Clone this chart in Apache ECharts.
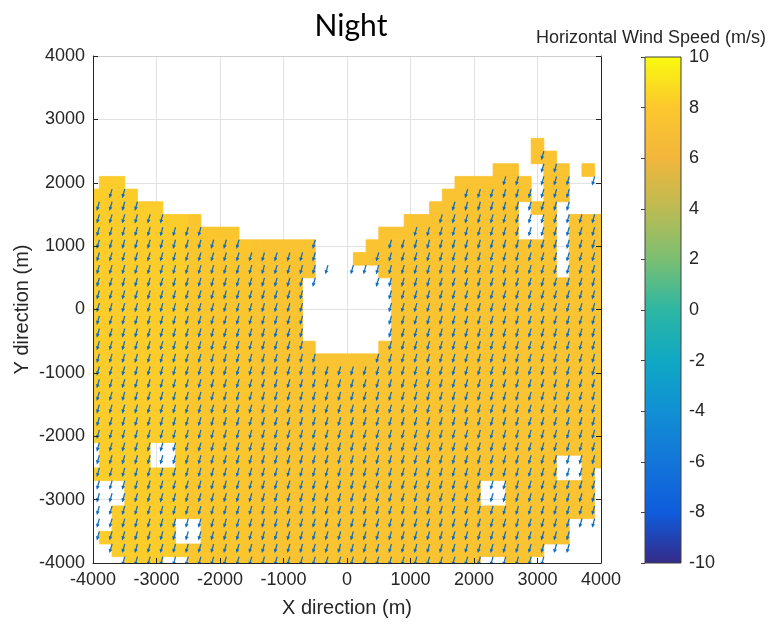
<!DOCTYPE html>
<html>
<head>
<meta charset="utf-8">
<script src="https://cdn.jsdelivr.net/npm/echarts@6/dist/echarts.min.js"></script>
<style>html,body{margin:0;padding:0;background:#fff}#c{width:774px;height:627px}</style>
</head>
<body>
<div id="c"></div>
<script>
// ---------- data ----------
const xRange = [-4000, 4000];
const yRange = [-4000, 4000];
const tickStep = 1000;
const cellSize = 200;            // metres per grid cell
const cbRange = [-10, 10];       // colour bar (m/s)
const cbTickStep = 2;

// speed grid: row j -> y = 4000 - 200 j ; column i -> x = -4000 + 200 i ; '.' = no data
const speedByCode = { '5': 7.5, '7': 7.8, '8': 8.2 };
const speedRows = [
  ".......... .......... .......... .......... .",
  ".......... .......... .......... .......... .",
  ".......... .......... .......... .......... .",
  ".......... .......... .......... .......... .",
  ".......... .......... .......... .......... .",
  ".......... .......... .......... .......... .",
  ".......... .......... .......... .......... .",
  ".......... .......... .......... .....5.... .",
  ".......... .......... .......... .....55... .",
  ".......... .......... .......... ..55..55.5 .",
  ".88....... .......... .........5 55555.55.. .",
  "8888...... .......... ........55 55555.55.. .",
  "888888.... .......... .......555 5555.55... .",
  "888888887. .......... .....55555 5555..5.55 5",
  "8888888877 77........ ...5555555 5555..5.55 5",
  "8888888877 77755555.. ..55555555 5555555.55 5",
  "8888888877 77755555.. .555555555 5555555.55 5",
  "8888888877 77755555.. ...5555555 5555555.55 5",
  "8888888877 7775555... ....555555 5555555555 5",
  "8888888877 7775555... ....555555 5555555555 5",
  "8888888877 7775555... ....555555 5555555555 5",
  "8888888877 7775555... ....555555 5555555555 5",
  "8888888877 7775555... ....555555 5555555555 5",
  "8888888877 77755555.. ...5555555 5555555555 5",
  "8888888877 7775555555 5555555555 5555555555 5",
  "8888888877 7775555555 5555555555 5555555555 5",
  "8888888877 7775555555 5555555555 5555555555 5",
  "8888888877 7775555555 5555555555 5555555555 5",
  "8888888877 7775555555 5555555555 5555555555 5",
  "8888888877 7775555555 5555555555 5555555555 5",
  "8888888877 7775555555 5555555555 5555555555 5",
  ".8888..877 7775555555 5555555555 5555555555 5",
  ".8888..877 7775555555 5555555555 5555555..5 5",
  "8888888877 7775555555 5555555555 5555555..5 .",
  "...8888877 7775555555 5555555555 5..5555555 .",
  "...8888877 7775555555 5555555555 5..5555555 .",
  "..88888877 7775555555 5555555555 5555555555 .",
  "..88888..7 7775555555 5555555555 55555555.. .",
  ".888888..7 7775555555 5555555555 55555555.. .",
  "..88888877 7775555555 5555555555 555555.... .",
  "...888..77 7775555555 5555555555 5..55..... ."
];

// wind vectors: '+' = a vector anchored at the lower-right corner of that grid cell
const windU = -2.0;   // m/s (east)
const windV = -7.2;   // m/s (north)
const arrowScale = 20; // metres of arrow per m/s
const windRows = [
  ".......... .......... .......... .......... .",
  ".......... .......... .......... .......... .",
  ".......... .......... .......... .......... .",
  ".......... .......... .......... .......... .",
  ".......... .......... .......... .......... .",
  ".......... .......... .......... .......... .",
  ".......... .......... .......... .......... .",
  ".......... .......... .......... .....+.... .",
  ".......... .......... .......... .....++... .",
  ".......... .......... .......... ..++.+++.+ .",
  ".++....... .......... .........+ ++++++++.. .",
  "++++...... .......... ........++ ++++++++.. .",
  "++++++.... .......... .......+++ ++++++++++ .",
  "+++++++++. .......... .....+++++ ++++++++++ +",
  "++++++++++ ++.....+.. ...+++++++ ++++++++++ +",
  "++++++++++ ++++++++.. ..++++++++ ++++++++++ +",
  "++++++++++ +++++++++. ++++++++++ ++++++++++ +",
  "++++++++++ ++++++++.. ..++++++++ ++++++++++ +",
  "++++++++++ +++++++... ...+++++++ ++++++++++ +",
  "++++++++++ +++++++... ...+++++++ ++++++++++ +",
  "++++++++++ +++++++... ...+++++++ ++++++++++ +",
  "++++++++++ +++++++... ...+++++++ ++++++++++ +",
  "++++++++++ +++++++... ...+++++++ ++++++++++ +",
  "++++++++++ ++++++++.. ..++++++++ ++++++++++ +",
  "++++++++++ ++++++++++ ++++++++++ ++++++++++ +",
  "++++++++++ ++++++++++ ++++++++++ ++++++++++ +",
  "++++++++++ ++++++++++ ++++++++++ ++++++++++ +",
  "++++++++++ ++++++++++ ++++++++++ ++++++++++ +",
  "++++++++++ ++++++++++ ++++++++++ ++++++++++ +",
  "++++++++++ ++++++++++ ++++++++++ ++++++++++ +",
  "++++++++++ ++++++++++ ++++++++++ ++++++++++ +",
  "++++++++++ ++++++++++ ++++++++++ ++++++++++ +",
  "++++++++++ ++++++++++ ++++++++++ ++++++++++ +",
  "++++++++++ ++++++++++ ++++++++++ ++++++++++ .",
  "++++++++++ ++++++++++ ++++++++++ ++++++++++ .",
  "++++++++++ ++++++++++ ++++++++++ ++++++++++ .",
  "++++++++++ ++++++++++ ++++++++++ ++++++++++ .",
  "++++++++++ ++++++++++ ++++++++++ ++++++++.. .",
  ".+++++++++ ++++++++++ ++++++++++ ++++++++.. .",
  "..++++++++ ++++++++++ ++++++++++ ++++++.... .",
  ".......... .......... .......... .......... ."
];

// colour map (bottom -> top of colour bar)
const parula = ['#352A87','#0F5CDD','#1375D9','#1190D4','#0FA8C4','#2DB6A3',
                '#7BBF72','#BCBB53','#F2B63C','#FCC72D','#F9FB0E'];

// ---------- build series data ----------
const cellData = [];
speedRows.forEach((row, j) => {
  const r = row.replace(/ /g, '');
  for (let i = 0; i < r.length; i++) {
    if (r[i] !== '.') cellData.push([xRange[0] + i * cellSize, yRange[1] - j * cellSize, speedByCode[r[i]]]);
  }
});
const arrowData = [];
windRows.forEach((row, j) => {
  const r = row.replace(/ /g, '');
  for (let i = 0; i < r.length; i++) {
    if (r[i] === '+') arrowData.push([xRange[0] + i * cellSize + cellSize / 2,
                                      yRange[1] - j * cellSize - cellSize / 2, windU, windV]);
  }
});

// ---------- chart ----------
const FONT = "'Liberation Sans', Arial, sans-serif";
const INK = '#262626';
const plain = v => String(v);
const chart = echarts.init(document.getElementById('c'), null, { renderer: 'canvas' });

const valueAxisBase = { type: 'value', min: xRange[0], max: xRange[1], interval: tickStep };

const option = {
  backgroundColor: '#ffffff',
  animation: false,
  title: [
    { text: 'Night', left: 346, top: 6, textAlign: 'center',
      textStyle: { fontFamily: 'Lato, "Open Sans", sans-serif', fontSize: 30, fontWeight: 'normal', color: '#000' } },
    { text: 'Horizontal Wind Speed (m/s)', left: 646, top: 24, textAlign: 'center',
      textStyle: { fontFamily: FONT, fontSize: 18, fontWeight: 'normal', color: INK } }
  ],
  grid: [
    { left: 93, top: 56, width: 508, height: 507, containLabel: false, outerBoundsMode: 'none' },
    { left: 645, top: 57, width: 36, height: 506, containLabel: false, outerBoundsMode: 'none' }
  ],
  visualMap: {
    type: 'continuous', show: false, min: cbRange[0], max: cbRange[1],
    dimension: 2, seriesIndex: 0, inRange: { color: parula }
  },
  xAxis: [
    Object.assign({}, valueAxisBase, { gridIndex: 0, position: 'bottom',
      axisLine: { show: false }, axisTick: { show: false }, axisLabel: { show: false },
      splitLine: { show: true, lineStyle: { color: '#E2E2E2', width: 1 } } }),
    Object.assign({}, valueAxisBase, { gridIndex: 0, position: 'bottom', z: 10,
      name: 'X direction (m)', nameLocation: 'middle', nameGap: 35, nameMoveOverlap: false,
      nameTextStyle: { fontFamily: FONT, fontSize: 20, color: INK },
      axisLine: { show: true, onZero: false, lineStyle: { color: INK, width: 1 } },
      axisTick: { show: true, inside: true, length: 5, lineStyle: { color: INK } },
      axisLabel: { show: true, fontFamily: FONT, fontSize: 18, color: INK, margin: 8, formatter: plain },
      splitLine: { show: false } }),
    Object.assign({}, valueAxisBase, { gridIndex: 0, position: 'top', z: 10,
      axisLine: { show: true, onZero: false, lineStyle: { color: '#CFCFCF', width: 1 } },
      axisTick: { show: false }, axisLabel: { show: false }, splitLine: { show: false } }),
    { type: 'value', gridIndex: 1, min: 0, max: 1, show: false }
  ],
  yAxis: [
    { type: 'value', min: yRange[0], max: yRange[1], interval: tickStep, gridIndex: 0, position: 'left',
      axisLine: { show: false }, axisTick: { show: false }, axisLabel: { show: false },
      splitLine: { show: true, lineStyle: { color: '#E2E2E2', width: 1 } } },
    { type: 'value', min: yRange[0], max: yRange[1], interval: tickStep, gridIndex: 0, position: 'left', z: 10,
      name: 'Y direction (m)', nameLocation: 'middle', nameGap: 61, nameRotate: 90, nameMoveOverlap: false,
      nameTextStyle: { fontFamily: FONT, fontSize: 20, color: INK },
      axisLine: { show: true, onZero: false, lineStyle: { color: INK, width: 1 } },
      axisTick: { show: true, inside: true, length: 5, lineStyle: { color: INK } },
      axisLabel: { show: true, fontFamily: FONT, fontSize: 18, color: INK, margin: 8, formatter: plain },
      splitLine: { show: false } },
    { type: 'value', min: yRange[0], max: yRange[1], interval: tickStep, gridIndex: 0, position: 'right', z: 10,
      axisLine: { show: true, onZero: false, lineStyle: { color: INK, width: 1 } },
      axisTick: { show: true, inside: true, length: 5, lineStyle: { color: INK } },
      axisLabel: { show: false }, splitLine: { show: false } },
    { type: 'value', min: cbRange[0], max: cbRange[1], interval: cbTickStep, gridIndex: 1, position: 'right', z: 10,
      axisLine: { show: false },
      axisTick: { show: true, inside: true, length: 4, lineStyle: { color: '#404040' } },
      axisLabel: { show: true, fontFamily: FONT, fontSize: 18, color: INK, margin: 8, formatter: plain },
      splitLine: { show: false } }
  ],
  series: [
    {
      type: 'custom', name: 'speed', xAxisIndex: 0, yAxisIndex: 0, clip: true, z: 2,
      data: cellData, encode: { x: 0, y: 1 },
      renderItem: function (params, api) {
        const c = api.coord([api.value(0), api.value(1)]);
        const s = api.size([cellSize, cellSize]);
        const cs = params.coordSys;
        const rect = echarts.graphic.clipRectByRect(
          { x: c[0] - s[0] / 2, y: c[1] - s[1] / 2, width: s[0], height: s[1] },
          { x: cs.x, y: cs.y, width: cs.width, height: cs.height });
        if (!rect) return;
        const col = api.visual('color');
        return { type: 'rect', shape: rect, style: { fill: col, stroke: col, lineWidth: 0.8 } };
      }
    },
    {
      type: 'custom', name: 'wind', xAxisIndex: 0, yAxisIndex: 0, clip: true, z: 3,
      data: arrowData, encode: { x: 0, y: 1 },
      renderItem: function (params, api) {
        const x = api.value(0), y = api.value(1), u = api.value(2), v = api.value(3);
        const p0 = api.coord([x, y]);
        const p1 = api.coord([x + u * arrowScale, y + v * arrowScale]);
        const dx = p1[0] - p0[0], dy = p1[1] - p0[1];
        const len = Math.sqrt(dx * dx + dy * dy) || 1;
        const ux = dx / len, uy = dy / len;
        const hl = 4, hw = 1.9;
        const b = [p1[0] - ux * hl, p1[1] - uy * hl];
        const l = [b[0] - uy * hw, b[1] + ux * hw];
        const r = [b[0] + uy * hw, b[1] - ux * hw];
        return {
          type: 'group',
          children: [
            { type: 'line', shape: { x1: p0[0], y1: p0[1], x2: b[0] + ux, y2: b[1] + uy },
              style: { stroke: '#1A6FB0', lineWidth: 1.3 } },
            { type: 'polygon', shape: { points: [p1, l, r] }, style: { fill: '#0A6CC8' } }
          ]
        };
      }
    },
    {
      type: 'custom', name: 'colorbar', xAxisIndex: 3, yAxisIndex: 3, z: 2,
      data: [[0, cbRange[0], cbRange[1]]],
      renderItem: function (params, api) {
        const p0 = api.coord([0, api.value(2)]);
        const p1 = api.coord([1, api.value(1)]);
        const n = parula.length - 1;
        const stops = parula.map((c, k) => ({ offset: k / n, color: parula[n - k] }));
        return {
          type: 'rect',
          shape: { x: p0[0], y: p0[1], width: p1[0] - p0[0], height: p1[1] - p0[1] },
          style: { fill: new echarts.graphic.LinearGradient(0, 0, 0, 1, stops), stroke: '#404040', lineWidth: 1 }
        };
      }
    }
  ]
};
chart.setOption(option);
</script>
</body>
</html>
